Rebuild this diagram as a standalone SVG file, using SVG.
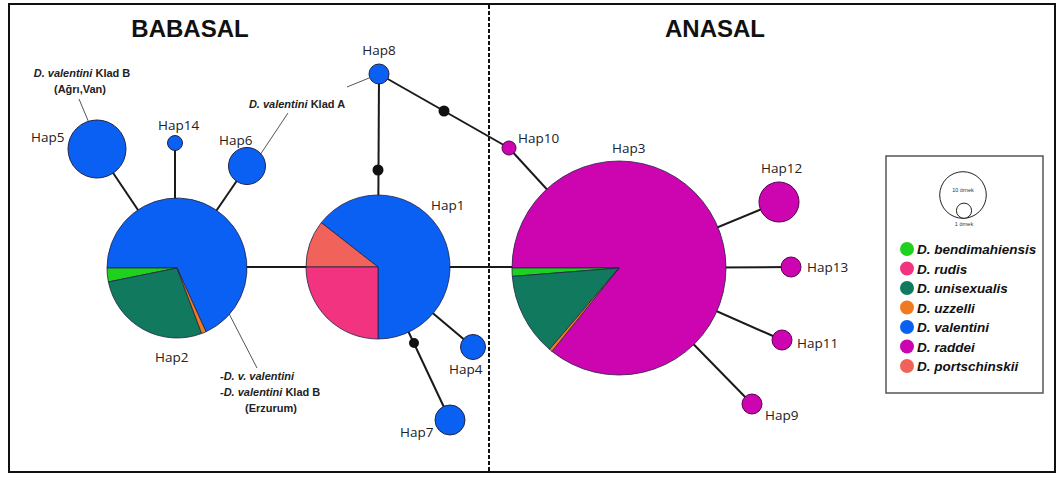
<svg xmlns="http://www.w3.org/2000/svg" width="1062" height="483" viewBox="0 0 1062 483">
  <style>
    .title { font-family: "Liberation Sans", Arial, sans-serif; font-weight: bold; font-size: 24px; fill: #111; text-anchor: middle; }
    .hap { font-family: "Open Sans", "Liberation Sans", sans-serif; font-size: 13.5px; fill: #222; }
    .note { font-family: "Liberation Sans", Arial, sans-serif; font-weight: bold; font-size: 11px; fill: #222; }
    .note .sp { font-style: italic; }
    .leg { font-family: "Liberation Sans", Arial, sans-serif; font-weight: bold; font-style: italic; font-size: 13.5px; fill: #111; }
    .tiny { font-family: "Liberation Sans", Arial, sans-serif; font-size: 5.5px; fill: #333; text-anchor: middle; }
    .edge { stroke: #1a1a1a; stroke-width: 2; fill: none; }
    .lead { stroke: #555; stroke-width: 1; fill: none; }
    .dot { fill: #111; }
    .pie { stroke: #222244; stroke-width: 0.8; stroke-linejoin: round; }
    .val { fill: #0b60f4; }
    .rad { fill: #cc05b0; }
    .ben { fill: #1fd11f; }
    .rud { fill: #f2337f; }
    .uni { fill: #117a5e; }
    .uzz { fill: #f07a22; }
    .por { fill: #f0625a; }
    .node { stroke: #222244; stroke-width: 1; }
    .rnode { stroke: #5a0050; stroke-width: 1; }
  </style>

  <rect width="1062" height="483" fill="#ffffff"/>

  <!-- frame and divider -->
  <rect x="9" y="4" width="1046" height="468" fill="none" stroke="#111" stroke-width="2"/>
  <line x1="489" y1="5" x2="489" y2="471" stroke="#111" stroke-width="2" stroke-dasharray="4 2"/>

  <text class="title" x="190" y="37">BABASAL</text>
  <text class="title" x="715" y="37">ANASAL</text>

  <!-- connectors -->
  <g id="connectors">
    <line class="edge" x1="97" y1="149" x2="177" y2="268"/>
    <line class="edge" x1="175" y1="143" x2="175" y2="205"/>
    <line class="edge" x1="247" y1="166" x2="177" y2="268"/>
    <line class="edge" x1="177" y1="267" x2="378" y2="267"/>
    <line class="edge" x1="379" y1="74" x2="378" y2="267"/>
    <line class="edge" x1="379" y1="74" x2="509" y2="148"/>
    <line class="edge" x1="509" y1="148" x2="619" y2="268"/>
    <line class="edge" x1="378" y1="267" x2="619" y2="267"/>
    <line class="edge" x1="378" y1="267" x2="473" y2="347"/>
    <line class="edge" x1="378" y1="267" x2="450" y2="420"/>
    <line class="edge" x1="619" y1="268" x2="779" y2="202"/>
    <line class="edge" x1="619" y1="268" x2="791" y2="267"/>
    <line class="edge" x1="619" y1="268" x2="782" y2="340"/>
    <line class="edge" x1="619" y1="268" x2="752" y2="404"/>
    <!-- median vectors -->
    <circle class="dot" cx="378" cy="170" r="5.5"/>
    <circle class="dot" cx="444" cy="111" r="5.5"/>
    <circle class="dot" cx="414" cy="343" r="5"/>
    <!-- annotation leaders -->
    <line class="lead" x1="79" y1="99" x2="92" y2="130"/>
    <line class="lead" x1="288" y1="113" x2="258" y2="158"/>
    <line class="lead" x1="347" y1="87" x2="369" y2="78"/>
    <line class="lead" x1="257" y1="368" x2="223" y2="302"/>
  </g>

  <!-- haplotypes -->
  <g id="hap2">
    <path class="pie val" d="M177,268 L107,268 A70,70 0 1 1 206.03,331.70 Z"/>
    <path class="pie ben" d="M177,268 L107,268 A70,70 0 0 0 108.41,281.96 Z"/>
    <path class="pie uni" d="M177,268 L108.41,281.96 A70,70 0 0 0 201.63,333.53 Z"/>
    <path class="pie uzz" d="M177,268 L201.63,333.53 A70,70 0 0 0 206.03,331.70 Z"/>
    <text class="hap" x="155" y="362">Hap2</text>
  </g>
  <g id="hap1">
    <path class="pie val" d="M378,267 L321.26,222.67 A72,72 0 1 1 378,339 Z"/>
    <path class="pie por" d="M378,267 L306,267 A72,72 0 0 1 321.26,222.67 Z"/>
    <path class="pie rud" d="M378,267 L378,339 A72,72 0 0 1 306,267 Z"/>
    <text class="hap" x="431" y="210">Hap1</text>
  </g>
  <g id="hap3">
    <path class="pie rad" d="M619,268 L512,268 A107,107 0 1 1 551.95,351.39 Z"/>
    <path class="pie ben" d="M619,268 L512,268 A107,107 0 0 0 512.33,276.40 Z"/>
    <path class="pie uni" d="M619,268 L512.33,276.40 A107,107 0 0 0 549.51,349.37 Z"/>
    <path class="pie uzz" d="M619,268 L549.51,349.37 A107,107 0 0 0 551.95,351.39 Z"/>
    <text class="hap" x="612" y="153">Hap3</text>
  </g>
  <g id="hap5">
    <circle class="val node" cx="97" cy="149" r="29"/>
    <text class="hap" x="31" y="142">Hap5</text>
  </g>
  <g id="hap14">
    <circle class="val node" cx="175" cy="143" r="7.5"/>
    <text class="hap" x="158" y="130">Hap14</text>
  </g>
  <g id="hap6">
    <circle class="val node" cx="247" cy="166" r="18.5"/>
    <text class="hap" x="219" y="145">Hap6</text>
  </g>
  <g id="hap8">
    <circle class="val node" cx="379" cy="74" r="10"/>
    <text class="hap" x="379" y="55" text-anchor="middle">Hap8</text>
  </g>
  <g id="hap4">
    <circle class="val node" cx="473" cy="347" r="12.5"/>
    <text class="hap" x="449" y="374">Hap4</text>
  </g>
  <g id="hap7">
    <circle class="val node" cx="450" cy="420" r="15"/>
    <text class="hap" x="400" y="437">Hap7</text>
  </g>
  <g id="hap10">
    <circle class="rad rnode" cx="509" cy="148" r="7"/>
    <text class="hap" x="518" y="143">Hap10</text>
  </g>
  <g id="hap12">
    <circle class="rad rnode" cx="779" cy="202" r="20"/>
    <text class="hap" x="761" y="173">Hap12</text>
  </g>
  <g id="hap13">
    <circle class="rad rnode" cx="791" cy="267" r="10"/>
    <text class="hap" x="807" y="272">Hap13</text>
  </g>
  <g id="hap11">
    <circle class="rad rnode" cx="782" cy="340" r="10"/>
    <text class="hap" x="797" y="348">Hap11</text>
  </g>
  <g id="hap9">
    <circle class="rad rnode" cx="752" cy="404" r="10"/>
    <text class="hap" x="765" y="420">Hap9</text>
  </g>

  <!-- clade annotations -->
  <g id="notes">
    <text class="note" x="82" y="77" text-anchor="middle"><tspan class="sp">D. valentini</tspan> Klad B</text>
    <text class="note" x="80" y="93" text-anchor="middle">(Ağrı,Van)</text>
    <text class="note" x="297" y="108" text-anchor="middle"><tspan class="sp">D. valentini</tspan> Klad A</text>
    <text class="note" x="220" y="380"><tspan class="sp">-D. v. valentini</tspan></text>
    <text class="note" x="220" y="396"><tspan class="sp">-D. valentini</tspan> Klad B</text>
    <text class="note" x="271" y="412" text-anchor="middle">(Erzurum)</text>
  </g>

  <!-- legend -->
  <g id="legend">
    <rect x="886" y="156" width="157" height="237" fill="#fff" stroke="#555" stroke-width="1.5"/>
    <circle cx="963" cy="195" r="23.3" fill="#fff" stroke="#222" stroke-width="1"/>
    <circle cx="964" cy="210.7" r="7.6" fill="#fff" stroke="#222" stroke-width="1"/>
    <text class="tiny" x="963" y="192">10 örnek</text>
    <text class="tiny" x="964" y="226">1 örnek</text>
    <circle class="ben" cx="907" cy="249" r="7"/>
    <circle class="rud" cx="907" cy="268.5" r="7"/>
    <circle class="uni" cx="907" cy="288" r="7"/>
    <circle class="uzz" cx="907" cy="307.5" r="7"/>
    <circle class="val" cx="907" cy="327" r="7"/>
    <circle class="rad" cx="907" cy="346.5" r="7"/>
    <circle class="por" cx="907" cy="366" r="7"/>
    <text class="leg" x="917" y="254">D. bendimahiensis</text>
    <text class="leg" x="917" y="273.5">D. rudis</text>
    <text class="leg" x="917" y="293">D. unisexualis</text>
    <text class="leg" x="917" y="312.5">D. uzzelli</text>
    <text class="leg" x="917" y="332">D. valentini</text>
    <text class="leg" x="917" y="351.5">D. raddei</text>
    <text class="leg" x="917" y="371">D. portschinskii</text>
  </g>
</svg>
